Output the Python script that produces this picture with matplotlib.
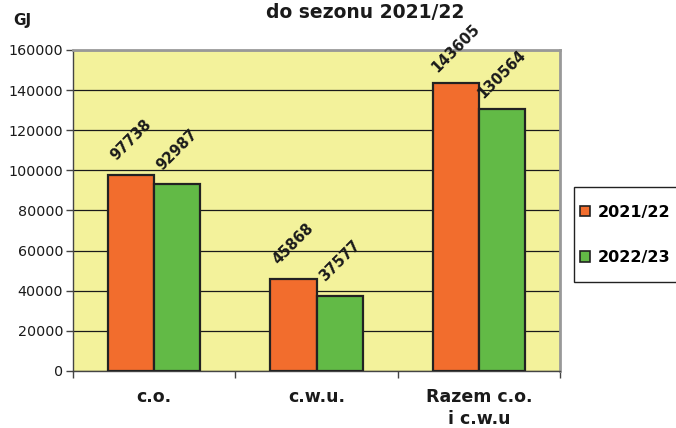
import matplotlib
matplotlib.use('Agg')
import matplotlib.pyplot as plt
from matplotlib.patches import Rectangle
import numpy as np

# Data
categories = ['c.o.', 'c.w.u.', 'Razem c.o.\ni c.w.u']
series = ['2021/22', '2022/23']
values_2122 = [97738, 45868, 143605]
values_2223 = [92987, 37577, 130564]
yticks = [0, 20000, 40000, 60000, 80000, 100000, 120000, 140000, 160000]

colors = ['#F26D2D', '#62BA46']
bg = '#F3F29B'
edge = '#222222'

plt.rcParams['font.family'] = 'DejaVu Sans'

W, H = 676, 428
fig = plt.figure(figsize=(W / 100, H / 100), dpi=100, facecolor='white')
ax = fig.add_axes([73 / W, 1 - 371 / H, (560 - 73) / W, (371 - 50) / H])
ax.set_facecolor(bg)

x = np.arange(len(categories))
width = 0.285
bars = []
for i, vals in enumerate([values_2122, values_2223]):
    pos = x + (i - 0.5) * width
    b = ax.bar(pos, vals, width, color=colors[i], edgecolor=edge, linewidth=1.6,
               label=series[i], zorder=3)
    bars.append(b)
    for px, v in zip(pos, vals):
        ax.annotate(f'{v}', (px, v), xytext=(0, 25), textcoords='offset points',
                    ha='center', va='center', rotation=45, fontsize=10.5,
                    fontweight='bold', color='#1a1a1a', zorder=5,
                    annotation_clip=False)

ax.set_xlim(-0.5, len(categories) - 0.5)
ax.set_ylim(0, 160000)
ax.set_yticks(yticks)
ax.set_yticklabels([str(t) for t in yticks], fontsize=10.3, color='#1a1a1a')
ax.tick_params(axis='y', length=5, width=1, color='#444444', pad=2)

ax.set_xticks(x)
ax.set_xticklabels(categories, fontsize=12.5, fontweight='bold', color='#1a1a1a',
                   linespacing=1.3, va='top')
ax.tick_params(axis='x', which='major', length=0, pad=12)
ax.set_xticks(np.arange(len(categories) + 1) - 0.5, minor=True)
ax.tick_params(axis='x', which='minor', length=5, width=1, color='#444444')

ax.yaxis.grid(True, color='#1a1a1a', linewidth=0.9, zorder=0)
ax.set_axisbelow(True)

for s in ['left', 'bottom']:
    ax.spines[s].set_color('#444444')
    ax.spines[s].set_linewidth(1.0)
for s in ['top', 'right']:
    ax.spines[s].set_color('#999999')
    ax.spines[s].set_linewidth(2.0)

# Titles
fig.text(365 / W, 1 - 12 / H, 'do sezonu 2021/22', ha='center', va='center',
         fontsize=13.5, fontweight='bold', color='#1a1a1a')
fig.text(22 / W, 1 - 20 / H, 'GJ', ha='center', va='center',
         fontsize=11, fontweight='bold', color='#1a1a1a')

# Legend frame (its right edge runs past the figure), drawn below the axes
frame = Rectangle((574 / W, 1 - 282 / H), 130 / W, 95 / H,
                  transform=fig.transFigure, facecolor='white',
                  edgecolor='#222222', linewidth=1.0, zorder=-1)
fig.add_artist(frame)
leg = ax.legend(handles=bars, labels=series, loc='center left',
                bbox_to_anchor=(580 / W, 1 - 235 / H),
                bbox_transform=fig.transFigure, frameon=False,
                prop={'weight': 'bold', 'size': 11.5},
                handlelength=0.6, handleheight=0.6, handletextpad=0.5,
                labelspacing=1.9, borderpad=0, borderaxespad=0)
for h in leg.legend_handles:
    h.set_linewidth(1.2)

fig.savefig('out.png', dpi=100, facecolor='white')
